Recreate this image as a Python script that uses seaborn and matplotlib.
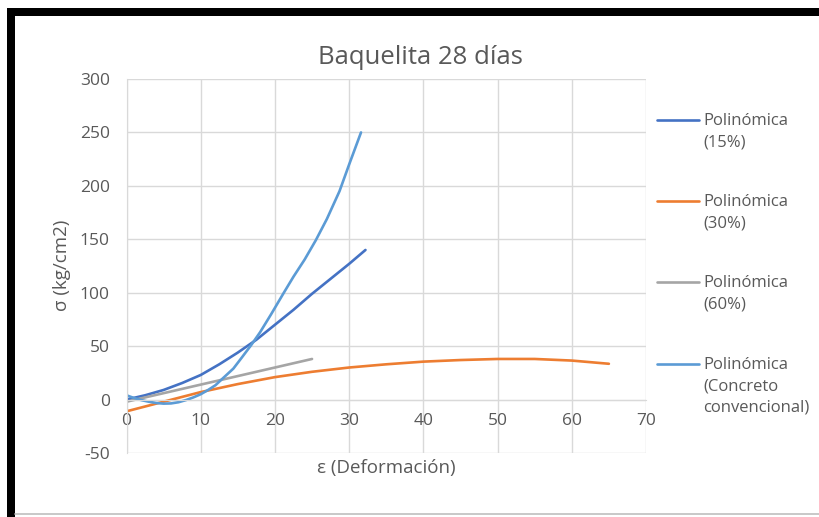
import numpy as np
import pandas as pd
import matplotlib
matplotlib.use("Agg")
import matplotlib.pyplot as plt
import seaborn as sns
from matplotlib.patches import Rectangle
from matplotlib.lines import Line2D

# Curvas de tendencia
x_15 = [0, 2.5, 5, 7.5, 10, 12.5, 15, 17.5, 20, 22.5, 25, 27.5, 30, 32.2]
y_15 = [0, 4, 9, 15.5, 23, 33, 44, 56, 70, 84, 99, 113, 127, 140]

x_30 = [0, 5, 10, 15, 20, 25, 30, 35, 40, 45, 50, 55, 60, 65]
y_30 = [-11, -2, 7, 14.5, 21, 26, 30, 33, 35.5, 37, 38, 38, 36.5, 33.5]

x_60 = [0, 5, 10, 15, 20, 25]
y_60 = [-2, 6, 14, 22, 30, 38]

x_cc = [0, 1, 2, 3, 4, 5, 6, 7, 8, 9, 10, 11, 12, 13, 14.4, 15.5, 16.8,
        18, 19.5, 21.2, 22.5, 24, 25.5, 27, 28.7, 30, 31.6]
y_cc = [4, 1.5, -0.5, -2, -3.2, -3.8, -3.6, -2.5, -0.5, 2, 5, 9, 13.5, 20,
        29, 39, 51, 63, 80, 100, 115, 131, 149, 169, 195, 220, 250]

labels = ["Polinómica\n(15%)", "Polinómica\n(30%)", "Polinómica\n(60%)",
          "Polinómica\n(Concreto\nconvencional)"]
colors = ["#4472C4", "#ED7D31", "#A5A5A5", "#5B9BD5"]

x_ticks = [0, 10, 20, 30, 40, 50, 60, 70]
y_ticks = [-50, 0, 50, 100, 150, 200, 250, 300]

series = [(x_15, y_15), (x_30, y_30), (x_60, y_60), (x_cc, y_cc)]

sns.set_style("white")
plt.rcParams["font.family"] = ["Open Sans", "DejaVu Sans"]
plt.rcParams["axes.unicode_minus"] = False
TXT = "#595959"

W, H = 819, 517
fig = plt.figure(figsize=(W / 100, H / 100), dpi=100)
ax = fig.add_axes([126.5 / W, 1 - 453 / H, (646 - 126.5) / W, (453 - 79) / H])

for (xs, ys), color, label in zip(series, colors, labels):
    sns.lineplot(
        x=xs,
        y=ys,
        color=color,
        linewidth=1.9,
        sort=False,
        estimator=None,
        ax=ax
    )

ax.set_xlim(0, 70)
ax.set_ylim(-50, 300)
ax.set_xticks(x_ticks)
ax.set_yticks(y_ticks)
ax.grid(True, color="#D9D9D9", linewidth=1.0)
ax.set_axisbelow(True)

for s in ["top", "right"]:
    ax.spines[s].set_visible(False)
ax.spines["bottom"].set_position(("data", 0))
ax.spines["bottom"].set_color("#D9D9D9")
ax.spines["left"].set_color("#D9D9D9")
ax.tick_params(axis="both", length=0, labelsize=12.5, labelcolor=TXT)
ax.tick_params(axis="x", pad=10)
ax.tick_params(axis="y", pad=12)

ax.set_xlabel("")
ax.set_ylabel("")
fig.text(386 / W, 1 - 468 / H, "ε (Deformación)", ha="center", va="center",
         fontsize=13.5, color=TXT)
fig.text(62 / W, 1 - 265 / H, "σ (kg/cm2)", ha="center", va="center",
         rotation=90, fontsize=13.5, color=TXT)
fig.text(420 / W, 1 - 57 / H, "Baquelita 28 días", ha="center", va="center",
         fontsize=18.5, color=TXT)

# Leyenda
legend_y = [120, 201, 282, 364]
for yl, color, label in zip(legend_y, colors, labels):
    fig.add_artist(Line2D([657 / W, 699 / W], [1 - yl / H, 1 - yl / H],
                          color=color, linewidth=1.9))
    fig.text(703 / W, 1 - (yl - 7) / H, label, ha="left", va="top",
             fontsize=12, color=TXT, linespacing=1.42)

# Marco negro
fig.add_artist(Rectangle((7 / W, 1 - 16 / H), 1, 8 / H,
                         transform=fig.transFigure, color="black", lw=0))
fig.add_artist(Rectangle((7 / W, 0), 8 / W, 1 - 8 / H,
                         transform=fig.transFigure, color="black", lw=0))
fig.add_artist(Line2D([15 / W, 1], [1 - 513.5 / H, 1 - 513.5 / H],
                      color="#BFBFBF", linewidth=1.2))

plt.savefig("out.png", dpi=100)
